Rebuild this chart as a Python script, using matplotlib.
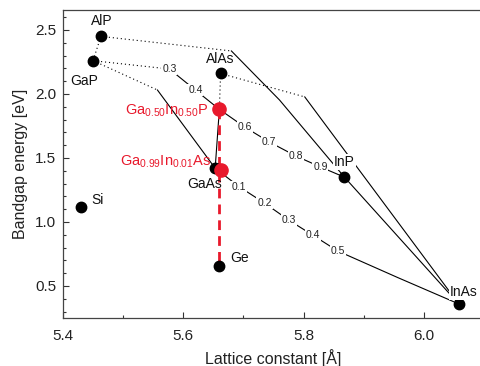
import matplotlib
matplotlib.use("Agg")
import matplotlib.pyplot as plt
from matplotlib.ticker import MultipleLocator

plt.rcParams['font.family'] = ['Liberation Sans', 'DejaVu Sans']
plt.rcParams['mathtext.fontset'] = 'custom'
plt.rcParams['mathtext.rm'] = 'Liberation Sans'
plt.rcParams['mathtext.it'] = 'Liberation Sans'
plt.rcParams['mathtext.default'] = 'regular'

# Binary compounds: lattice constant [Å], bandgap [eV]
names = ["AlP", "GaP", "AlAs", "GaAs", "Si", "Ge", "InP", "InAs"]
lattice = [5.463, 5.450, 5.662, 5.653, 5.430, 5.660, 5.868, 6.058]
gap = [2.45, 2.26, 2.16, 1.42, 1.12, 0.66, 1.35, 0.36]
label_pos = [(5.465, 2.57), (5.436, 2.10), (5.662, 2.27), (5.635, 1.30),
             (5.458, 1.17), (5.694, 0.72), (5.868, 1.47), (6.066, 0.45)]

# Highlighted alloys
alloy_names = [r"Ga$_{0.50}$In$_{0.50}$P", r"Ga$_{0.99}$In$_{0.01}$As"]
alloy_lattice = [5.660, 5.662]
alloy_gap = [1.88, 1.406]
alloy_label_pos = [(5.642, 1.87), (5.646, 1.47)]

# Ternary curves: dotted (indirect) and solid (direct) parts
alp_gap_dot_x = [5.463, 5.450]
alp_gap_dot_y = [2.45, 2.26]

alp_inp_dot_x = [5.463, 5.680]
alp_inp_dot_y = [2.45, 2.336]
alp_inp_sol_x = [5.680, 5.760, 5.868]
alp_inp_sol_y = [2.336, 1.953, 1.35]

alas_inas_dot_x = [5.662, 5.802]
alas_inas_dot_y = [2.16, 1.977]
alas_inas_sol_x = [5.802, 6.058]
alas_inas_sol_y = [1.977, 0.36]

gap_gaas_dot_x = [5.450, 5.557]
gap_gaas_dot_y = [2.26, 2.031]
gap_gaas_sol_x = [5.557, 5.653]
gap_gaas_sol_y = [2.031, 1.42]

alas_gaas_dot_x = [5.662, 5.660]
alas_gaas_dot_y = [2.16, 1.88]
alas_gaas_sol_x = [5.660, 5.653]
alas_gaas_sol_y = [1.88, 1.42]

inp_inas_x = [5.868, 6.058]
inp_inas_y = [1.35, 0.36]

# GaP-InP with In-fraction labels
gainp_frac = ["0.3", "0.4", "0.6", "0.7", "0.8", "0.9"]
gainp_lbl_x = [5.577, 5.620, 5.702, 5.743, 5.787, 5.828]
gainp_lbl_y = [2.195, 2.031, 1.742, 1.625, 1.516, 1.430]
gainp_dot_x = [5.450, 5.577]
gainp_dot_y = [2.26, 2.195]
gainp_sol_x = [5.577, 5.620, 5.660, 5.702, 5.743, 5.787, 5.828, 5.868]
gainp_sol_y = [2.195, 2.031, 1.88, 1.742, 1.625, 1.516, 1.430, 1.35]

# GaAs-InAs with In-fraction labels
gainas_frac = ["0.1", "0.2", "0.3", "0.4", "0.5"]
gainas_lbl_x = [5.693, 5.735, 5.775, 5.815, 5.857]
gainas_lbl_y = [1.275, 1.148, 1.016, 0.898, 0.773]
gainas_x = [5.653, 5.693, 5.735, 5.775, 5.815, 5.857, 5.957, 6.058]
gainas_y = [1.42, 1.275, 1.148, 1.016, 0.898, 0.773, 0.565, 0.36]

# Red dashed: lattice-matched GaInP / GaInAs / Ge
red_x = [5.660, 5.660]
red_y = [1.88, 0.66]

fig = plt.figure(figsize=(4.8, 3.66), dpi=100)
ax = fig.add_axes([63/480, 1 - 318/366, (484 - 63)/480, (318 - 10)/366])

lw = 0.8
dot = dict(color="black", lw=lw, ls=(0, (1.0, 2.6)))
sol = dict(color="black", lw=lw)

ax.plot(alp_gap_dot_x, alp_gap_dot_y, **dot)
ax.plot(alp_inp_dot_x, alp_inp_dot_y, **dot)
ax.plot(alp_inp_sol_x, alp_inp_sol_y, **sol)
ax.plot(alas_inas_dot_x, alas_inas_dot_y, **dot)
ax.plot(alas_inas_sol_x, alas_inas_sol_y, **sol)
ax.plot(gap_gaas_dot_x, gap_gaas_dot_y, **dot)
ax.plot(gap_gaas_sol_x, gap_gaas_sol_y, **sol)
ax.plot(alas_gaas_dot_x, alas_gaas_dot_y, **dot)
ax.plot(alas_gaas_sol_x, alas_gaas_sol_y, **sol)
ax.plot(inp_inas_x, inp_inas_y, **sol)
ax.plot(gainp_dot_x, gainp_dot_y, **dot)
ax.plot(gainp_sol_x, gainp_sol_y, **sol)
ax.plot(gainas_x, gainas_y, **sol)

bb = dict(facecolor="white", edgecolor="none", pad=0.6)
for t, x, y in zip(gainp_frac, gainp_lbl_x, gainp_lbl_y):
    ax.text(x, y, t, fontsize=7.5, color="#222222", ha="center", va="center", bbox=bb, zorder=4)
for t, x, y in zip(gainas_frac, gainas_lbl_x, gainas_lbl_y):
    ax.text(x, y, t, fontsize=7.5, color="#222222", ha="center", va="center", bbox=bb, zorder=4)

ax.plot(red_x, red_y, color="#e8192c", lw=2.0, ls=(0, (3.5, 2.2)), zorder=5)

ax.plot(lattice, gap, "o", color="black", ms=7.5, zorder=6, ls="none")
ax.plot(alloy_lattice, alloy_gap, "o", color="#e8192c", ms=9.5, zorder=7, ls="none")

for n, (x, y) in zip(names, label_pos):
    bbox = bb if n in ("InP", "InAs") else None
    ax.text(x, y, n, fontsize=10, ha="center", va="center", color="#111111", bbox=bbox, zorder=8)
for n, (x, y) in zip(alloy_names, alloy_label_pos):
    ax.text(x, y, n, fontsize=10.5, ha="right", va="center", color="#e8192c", zorder=8)

ax.set_xlim(5.4, 6.1)
ax.set_ylim(0.25, 2.656)
ax.xaxis.set_major_locator(MultipleLocator(0.2))
ax.xaxis.set_minor_locator(MultipleLocator(0.1))
ax.yaxis.set_major_locator(MultipleLocator(0.5))
ax.yaxis.set_minor_locator(MultipleLocator(0.1))
ax.tick_params(which="both", direction="in", top=False, right=False, colors="#333333",
               labelsize=11, labelcolor="#222222")
ax.tick_params(which="major", length=4, width=0.8, pad=5)
ax.tick_params(axis="x", which="major", pad=8)
ax.tick_params(which="minor", length=2.5, width=0.8)
ax.xaxis.set_major_formatter(matplotlib.ticker.FormatStrFormatter("%.1f"))
ax.yaxis.set_major_formatter(matplotlib.ticker.FormatStrFormatter("%.1f"))
for s in ax.spines.values():
    s.set_color("#444444")
    s.set_linewidth(0.9)
ax.spines["right"].set_visible(False)

ax.set_xlabel("Lattice constant [Å]", fontsize=11.5, color="#222222", labelpad=4)
ax.set_ylabel("Bandgap energy [eV]", fontsize=11.5, color="#222222", labelpad=5)

fig.savefig("out.png", dpi=100)
